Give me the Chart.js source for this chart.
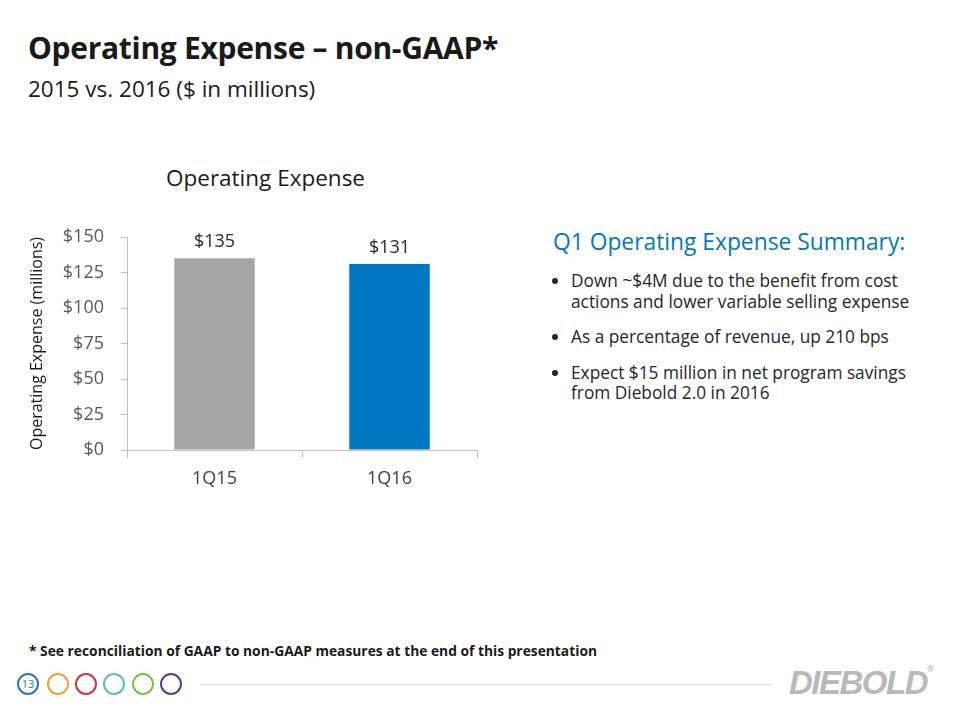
<!DOCTYPE html>
<html>
<head>
<meta charset="utf-8">
<script src="https://cdn.jsdelivr.net/npm/chart.js@4"></script>
<style>
  body { margin: 0; width: 960px; height: 720px; background: #fff; font-family: "Open Sans", "Noto Sans", sans-serif; position: relative; overflow: hidden; }
  .abs { position: absolute; white-space: nowrap; }
  #title { left: 28px; top: 27px; font-size: 30px; font-weight: bold; color: #1a1a1a; letter-spacing: -0.3px; }
  #sub { left: 28px; top: 73px; font-size: 22.5px; color: #1a1a1a; }
  #ctitle { left: 166px; top: 162px; font-size: 22.5px; color: #1a1a1a; }
  #wrap { position: absolute; left: 20px; top: 160px; width: 480px; height: 340px; }
  #sumhead { left: 553px; top: 226px; font-size: 22.8px; color: #0078c1; }
  ul { position: absolute; left: 558px; top: 271px; margin: 0; padding: 0 0 0 13px; font-size: 17.3px; color: #262626; line-height: 20.5px; width: 350px; }
  li { margin-bottom: 15px; padding-left: 0; }
  #foot { left: 29px; top: 641px; font-size: 13.8px; font-weight: bold; color: #1a1a1a; }
  .circ { position: absolute; width: 22px; height: 22px; border-radius: 50%; border: 2px solid; top: 673px; box-sizing: border-box; font-size: 11px; text-align: center; line-height: 18px; }
  #rule { position: absolute; left: 200px; top: 684px; width: 572px; height: 1px; background: #dedede; }
  #logo { left: 789px; top: 664px; font-size: 33px; font-weight: 900; font-style: italic; color: #b9b9b9; letter-spacing: -1.5px; font-family: "Liberation Sans", sans-serif; }
</style>
</head>
<body>
<div id="title" class="abs">Operating Expense – non-GAAP*</div>
<div id="sub" class="abs">2015 vs. 2016 ($ in millions)</div>
<div id="ctitle" class="abs">Operating Expense</div>
<div id="wrap"><canvas id="myChart"></canvas></div>
<div id="sumhead" class="abs">Q1 Operating Expense Summary:</div>
<ul>
  <li>Down ~$4M due to the benefit from cost actions and lower variable selling expense</li>
  <li>As a percentage of revenue, up 210 bps</li>
  <li>Expect $15 million in net program savings from Diebold 2.0 in 2016</li>
</ul>
<div id="foot" class="abs">* See reconciliation of GAAP to non-GAAP measures at the end of this presentation</div>
<div class="circ" style="left:17px;border-color:#2e75b6;color:#2e75b6">13</div>
<div class="circ" style="left:47px;border-color:#e8a33d"></div>
<div class="circ" style="left:75px;border-color:#c0394b"></div>
<div class="circ" style="left:103px;border-color:#5bbdc0"></div>
<div class="circ" style="left:132px;border-color:#7ac143"></div>
<div class="circ" style="left:160px;border-color:#5b3a8c"></div>
<div id="rule"></div>
<div id="logo" class="abs">DIEBOLD<span style="font-size:9px;vertical-align:top">®</span></div>
<script>
const categories = ['1Q15', '1Q16'];
const expense = [135, 131];
const barColors = ['#a5a5a5', '#0078c1'];
const yTicks = [0, 25, 50, 75, 100, 125, 150];

const valueLabels = {
    id: 'valueLabels',
    afterDatasetsDraw(chart) {
        const ctx = chart.ctx;
        const meta = chart.getDatasetMeta(0);
        ctx.save();
        ctx.font = '18px "Open Sans", "Noto Sans", sans-serif';
        ctx.fillStyle = '#262626';
        ctx.textAlign = 'center';
        ctx.textBaseline = 'bottom';
        meta.data.forEach((bar, i) => {
            ctx.fillText('$' + expense[i], bar.x, bar.y - 7);
        });
        ctx.restore();
    }
};

const config = {
    type: 'bar',
    data: {
        labels: categories,
        datasets: [{
            data: expense,
            backgroundColor: barColors,
            barPercentage: 0.46,
            categoryPercentage: 1
        }]
    },
    options: {
        responsive: true,
        maintainAspectRatio: false,
        animation: false,
        layout: { padding: { left: 0, right: 23, top: 77, bottom: 0 } },
        plugins: { legend: { display: false }, tooltip: { enabled: false } },
        scales: {
            x: {
                grid: { display: true, drawOnChartArea: false, offset: true, color: '#bfbfbf', tickLength: 8 },
                border: { color: '#bfbfbf' },
                ticks: { color: '#404040', font: { size: 18, family: '"Open Sans", "Noto Sans", sans-serif' }, padding: 10 },
                afterFit(s) { s.height = 50; }
            },
            y: {
                min: 0, max: 150,
                afterBuildTicks(s) { s.ticks = yTicks.map(v => ({ value: v })); },
                grid: { display: true, drawOnChartArea: false, color: '#bfbfbf', tickLength: 6 },
                border: { color: '#bfbfbf' },
                ticks: { color: '#595959', font: { size: 18, family: '"Open Sans", "Noto Sans", sans-serif' }, padding: 17,
                         callback: v => '$' + v },
                title: { display: true, text: 'Operating Expense (millions)', color: '#1a1a1a',
                         font: { size: 16, family: '"Open Sans", "Noto Sans", sans-serif' }, padding: { top: 8, bottom: 0 } },
                afterFit(s) { s.width = 107; }
            }
        }
    },
    plugins: [valueLabels]
};

new Chart(document.getElementById('myChart'), config);
</script>
</body>
</html>
